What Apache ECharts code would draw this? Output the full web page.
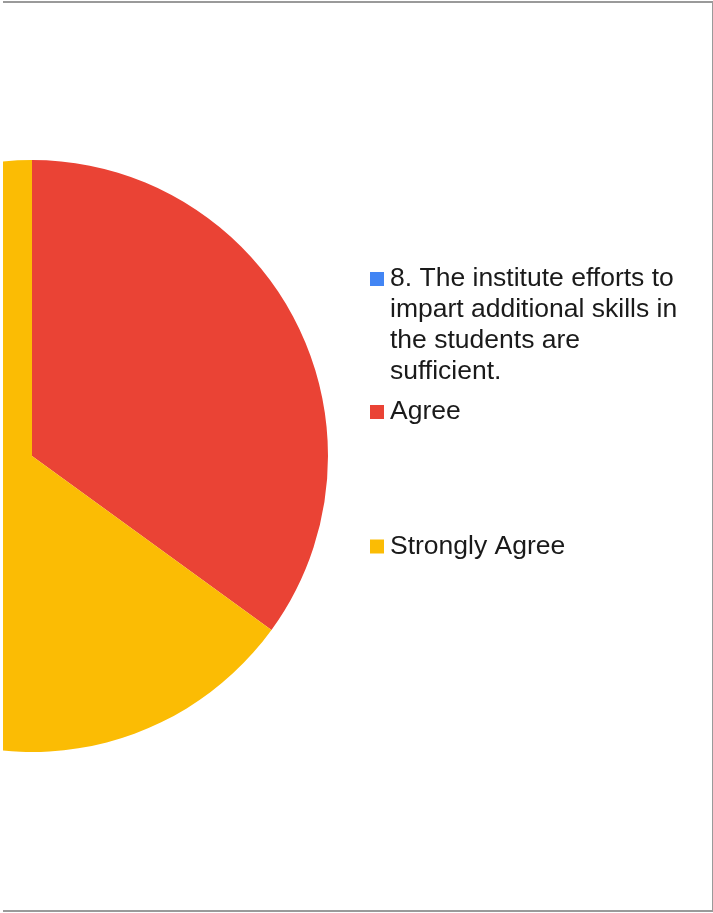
<!DOCTYPE html>
<html>
<head>
<meta charset="utf-8">
<script src="https://cdn.jsdelivr.net/npm/echarts@6/dist/echarts.min.js"></script>
<style>
html,body{margin:0;padding:0;background:#fff;width:713px;height:913px;overflow:hidden;}
#chart{position:absolute;left:3px;top:0;width:709px;height:911px;}
#frame{position:absolute;left:3px;top:1px;width:710px;height:911px;box-sizing:border-box;border-top:2px solid #9a9a9a;border-right:1px solid #9a9a9a;border-bottom:2px solid #9a9a9a;pointer-events:none;}
</style>
</head>
<body>
<div id="chart"></div>
<div id="frame"></div>
<script>
const categories = [
  "8. The institute efforts to impart additional skills in the students are sufficient.",
  "Agree",
  "Strongly Agree"
];
const legendLines = [
  "\n\n\n8. The institute efforts to\nimpart additional skills in\nthe students are\nsufficient.",
  "Agree",
  "Strongly Agree"
];
const values = [0, 7, 13];
const colors = ["#4285F4", "#EA4335", "#FBBC04"];

const chart = echarts.init(document.getElementById('chart'), null, {renderer: 'canvas'});
const font = {fontFamily: '"Liberation Sans", Arial, sans-serif', fontSize: 26.5, color: '#1a1a1a', lineHeight: 31, padding: [0, 0, 0, 1]};
const legendTops = [170.5, 396.5, 531];
const legends = categories.map((c, i) => ({
  orient: 'vertical',
  left: 367,
  top: legendTops[i],
  padding: 0,
  icon: 'rect',
  itemWidth: 14,
  itemHeight: 14,
  selectedMode: false,
  data: [c],
  formatter: () => legendLines[i],
  textStyle: font
}));

chart.setOption({
  animation: false,
  color: colors,
  legend: legends,
  series: [{
    type: 'pie',
    center: [29, 456],
    radius: 296,
    startAngle: 90,
    clockwise: true,
    label: {show: false},
    labelLine: {show: false},
    emphasis: {disabled: true},
    itemStyle: {borderWidth: 0},
    data: categories.map((c, i) => ({name: c, value: values[i]}))
  }]
});
</script>
</body>
</html>
